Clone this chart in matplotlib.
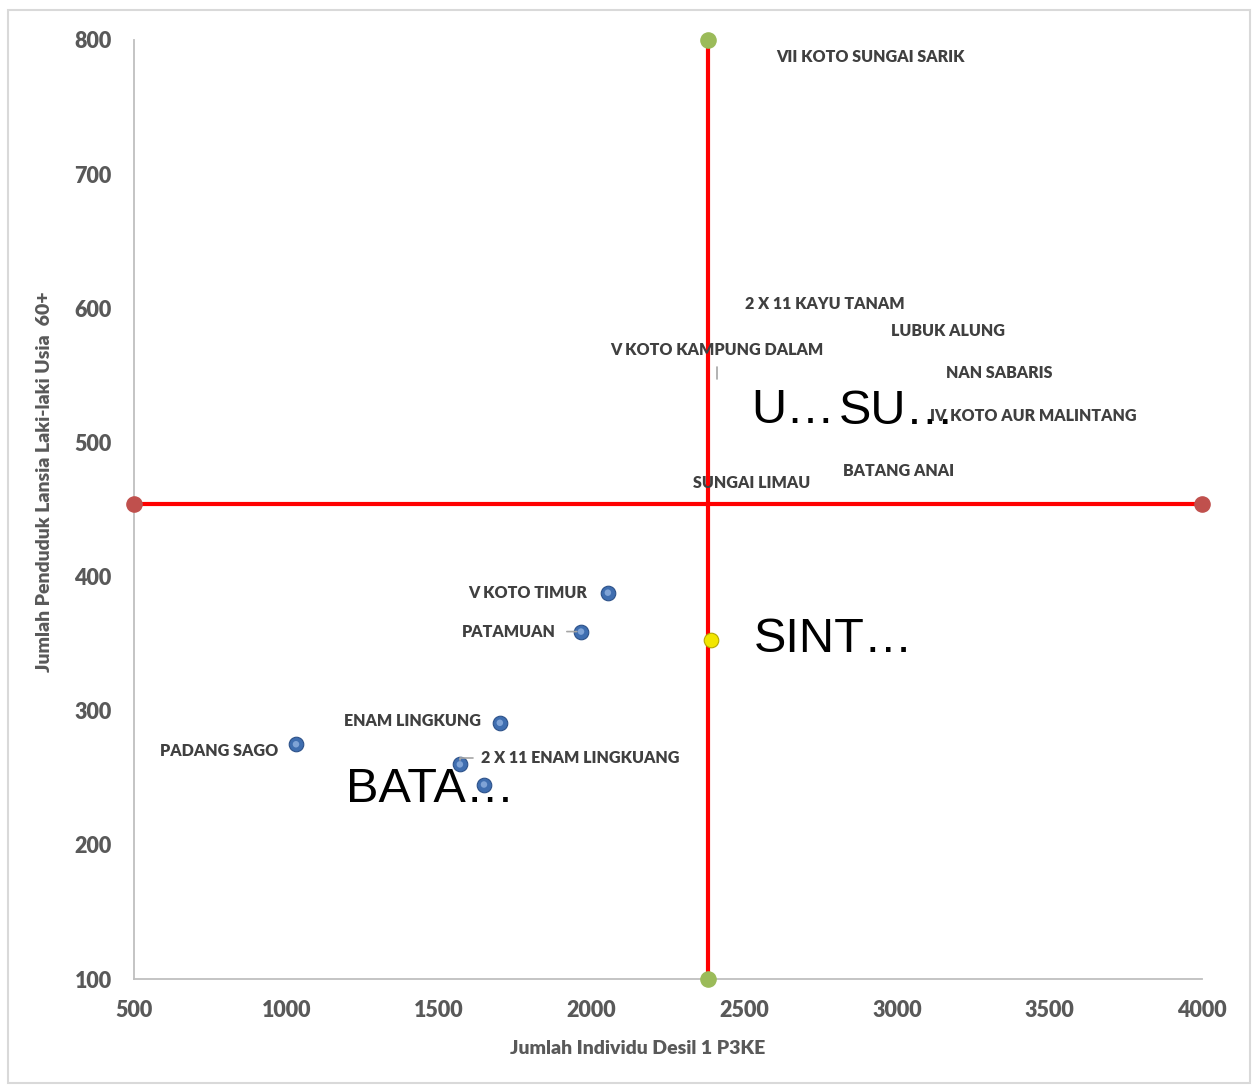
import matplotlib
matplotlib.use("Agg")
import matplotlib.pyplot as plt
from matplotlib.patches import Rectangle

# --- data -------------------------------------------------------------------
# visible kecamatan points (below the median line)
low_names = ["V KOTO TIMUR", "PATAMUAN", "ENAM LINGKUNG", "PADANG SAGO",
             "2 X 11 ENAM LINGKUANG"]
low_x = [2053, 1965, 1699, 1031, 1568]
low_y = [388, 359, 291, 275, 260]

# kecamatan in the upper-right quadrant (markers not shown, labels only)
high_names = ["VII KOTO SUNGAI SARIK", "2 X 11 KAYU TANAM", "LUBUK ALUNG",
              "V KOTO KAMPUNG DALAM", "NAN SABARIS", "IV KOTO AUR MALINTANG",
              "BATANG ANAI", "SUNGAI LIMAU"]
high_x = [2915, 2764, 3168, 2411, 3335, 3446, 3004, 2525]
high_y = [787, 603, 583, 547, 552, 520, 479, 470]

# truncated big labels
big_names = ["U…", "SU…"]
big_x = [2660, 3000]
big_y = [524, 523]

bata_x, bata_y = [1647], [245]
sint_x, sint_y = [2391], [353]

# quadrant lines
h_line_x = [500, 4000]
h_line_y = [454, 454]
v_line_x = [2381, 2381]
v_line_y = [100, 800]

x_ticks = [500, 1000, 1500, 2000, 2500, 3000, 3500, 4000]
y_ticks = [100, 200, 300, 400, 500, 600, 700, 800]

# --- style ------------------------------------------------------------------
LABEL_FONT = "Lato"
WEIGHT = "heavy"
LABEL_COLOR = "#404040"
TICK_COLOR = "#595959"
GRID_GREY = "#bfbfbf"

fig = plt.figure(figsize=(12.53, 10.86), dpi=100)
ax = fig.add_axes([0.1069, 0.0985, 0.8524, 0.8647])
fig.add_artist(Rectangle((8 / 1253, 3 / 1086), 1242 / 1253, 1073 / 1086,
                         transform=fig.transFigure, fill=False,
                         edgecolor="#d9d9d9", linewidth=1.5))

# quadrant lines with end dots
ax.plot(h_line_x, h_line_y, color="#ff0000", lw=3, zorder=2)
ax.scatter(h_line_x, h_line_y, s=120, color="#c0504d", zorder=3, clip_on=False)
ax.plot(v_line_x, v_line_y, color="#ff0000", lw=3, zorder=2)
ax.scatter(v_line_x, v_line_y, s=120, color="#9bbb59", zorder=3, clip_on=False)

# blue points
blue = dict(s=110, color="#3f6eb0", edgecolors="#2c5189", linewidths=0.8, zorder=4)
ax.scatter(low_x, low_y, **blue)
ax.scatter(bata_x, bata_y, **blue)
ax.scatter(low_x, low_y, s=22, color="#7fa3d6", zorder=5, edgecolors="none")
ax.scatter(bata_x, bata_y, s=22, color="#7fa3d6", zorder=5, edgecolors="none")
ax.scatter(sint_x, sint_y, s=110, color="#f2e600", edgecolors="#b5a800",
           linewidths=0.8, zorder=4)

lbl = dict(fontsize=11.5, fontweight=WEIGHT, color=LABEL_COLOR, family=LABEL_FONT,
           textcoords="offset points", ha="center", va="center", zorder=6)
leader = dict(arrowstyle="-", color="#a6a6a6", lw=1.2, shrinkA=6, shrinkB=3)

# label offsets (points) for the low points
low_off = [(-58, 0), (-52, 0), (-63, 1.5), (-55, -5), (87, 4.5)]
for name, x, y, off in zip(low_names, low_x, low_y, low_off):
    kw = dict(lbl)
    if name == "PATAMUAN":
        kw["arrowprops"] = leader
    if name == "2 X 11 ENAM LINGKUANG":
        kw["arrowprops"] = dict(leader, shrinkA=4,
                                connectionstyle="angle,angleA=0,angleB=90,rad=0")
    ax.annotate(name, xy=(x, y), xytext=off, **kw)

for name, x, y in zip(high_names, high_x, high_y):
    kw = dict(lbl)
    off = (0, 0)
    if name == "V KOTO KAMPUNG DALAM":
        off = (0, 21)
        kw["arrowprops"] = dict(leader, shrinkA=4, shrinkB=0,
                                connectionstyle="angle,angleA=0,angleB=90,rad=0")
    ax.annotate(name, xy=(x, y), xytext=off, **kw)

big = dict(fontsize=35, color="black", family="Liberation Sans",
           textcoords="offset points", ha="center", va="center", zorder=6)
for name, x, y in zip(big_names, big_x, big_y):
    ax.annotate(name, xy=(x, y), xytext=(0, 0), **big)
ax.annotate("BATA…", xy=(bata_x[0], bata_y[0]), xytext=(-39, -3.5), **big)
ax.annotate("SINT…", xy=(sint_x[0], sint_y[0]), xytext=(88, 0), **big)

# axes
ax.set_xlim(500, 4000)
ax.set_ylim(100, 800)
ax.set_xticks(x_ticks)
ax.set_yticks(y_ticks)
ax.tick_params(length=0, labelsize=15.5, labelcolor=TICK_COLOR)
ax.tick_params(axis="y", pad=16)
ax.tick_params(axis="x", pad=15)
for t in ax.get_xticklabels() + ax.get_yticklabels():
    t.set_fontweight(WEIGHT)
    t.set_family(LABEL_FONT)
for side in ("top", "right"):
    ax.spines[side].set_visible(False)
for side in ("left", "bottom"):
    ax.spines[side].set_color(GRID_GREY)
    ax.spines[side].set_linewidth(1.3)

fig.text(638 / 1253, 1 - 1048 / 1086, "Jumlah Individu Desil 1 P3KE",
         ha="center", va="center", fontsize=14, fontweight=WEIGHT,
         color=TICK_COLOR, family=LABEL_FONT)
fig.text(45 / 1253, 1 - 482 / 1086, "Jumlah Penduduk Lansia Laki-laki Usia  60+",
         ha="center", va="center", rotation=90, fontsize=14, fontweight=WEIGHT,
         color=TICK_COLOR, family=LABEL_FONT)

fig.savefig("out.png", dpi=100)
